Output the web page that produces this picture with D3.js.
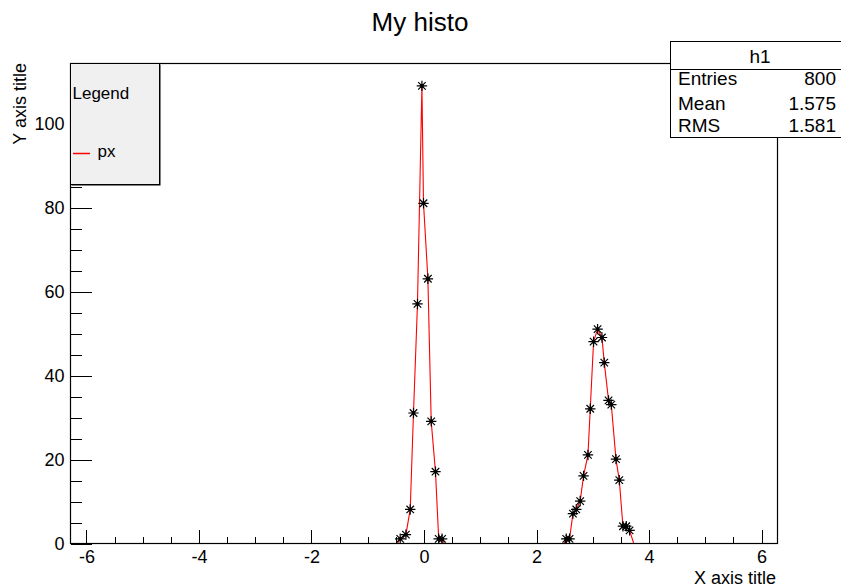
<!DOCTYPE html>
<html><head><meta charset="utf-8">
<script src="https://cdn.jsdelivr.net/npm/d3@7"></script>
<style>
body{margin:0;background:#fff}
svg text{font-family:"Liberation Sans",Arial,Helvetica,sans-serif;fill:#000}
</style>
</head><body>
<svg id="c" width="841" height="587"></svg>
<script>
// ---- data ----
const chartTitle = "My histo";
const xAxisTitle = "X axis title";
const yAxisTitle = "Y axis title";
const histName = "h1";
const seriesName = "px";
// x positions of the points (data units) and their counts; zero-count points only carry the line
const xValues = [-0.459, -0.414, -0.313, -0.236, -0.178, -0.107, -0.028, 0.0, 0.078, 0.137, 0.213, 0.27, 0.33, 0.368,
                 2.50, 2.537, 2.596, 2.656, 2.715, 2.785, 2.845, 2.923, 2.964, 3.023, 3.094, 3.172, 3.213, 3.289, 3.338, 3.421, 3.480, 3.545, 3.604, 3.663, 3.734];
const counts  = [0, 1, 2, 8, 31, 57, 109, 81, 63, 29, 17, 1, 1, 0,
                 0, 1, 1, 7, 8, 10, 16, 21, 32, 48, 51, 49, 43, 34, 33, 20, 15, 4, 4, 3, 0];
const xMajorTicks = [-6, -4, -2, 0, 2, 4, 6];
const yMajorTicks = [0, 20, 40, 60, 80, 100];
const statsLabels = ["Entries", "Mean", "RMS"];
const statsValues = ["800", "1.575", "1.581"];

// ---- layout ----
const svg = d3.select("#c");
const F = {l: 70, r: 777, t: 63, b: 543};
const x = d3.scaleLinear().domain([-2 * Math.PI, 2 * Math.PI]).range([F.l, F.r]);
const y = d3.scaleLinear().domain([0, d3.max(counts) * 1.05]).range([F.b, F.t]);
const xMinor = d3.range(-6, 6.001, 0.5);
const yMinor = d3.range(0, y.domain()[1], 5);
const FONT = '"Liberation Sans",Arial,Helvetica,sans-serif';

// title
svg.append("text").attr("x", 420).attr("y", 31).attr("text-anchor", "middle")
  .attr("font-size", 26).text(chartTitle);

// data (drawn under the frame and axes); split where two zero points follow each other
const pts = xValues.map((v, i) => ({x: v, c: counts[i]}));
const segments = [];
let cur = [];
pts.forEach((p, i) => {
  if (i > 0 && p.c === 0 && pts[i - 1].c === 0) { segments.push(cur); cur = []; }
  cur.push(p);
});
segments.push(cur);
svg.append("clipPath").attr("id", "fr").append("rect")
  .attr("x", F.l).attr("y", F.t).attr("width", F.r - F.l).attr("height", F.b - F.t);
svg.append("g").attr("clip-path", "url(#fr)")
  .selectAll("path").data(segments).join("path")
  .attr("fill", "none").attr("stroke", "#ff0000").attr("stroke-width", 1.1)
  .attr("d", d3.line().x(d => x(d.x)).y(d => y(d.c)));

// frame
svg.append("rect").attr("x", F.l + 0.5).attr("y", F.t + 0.5)
  .attr("width", F.r - F.l).attr("height", F.b - F.t)
  .attr("fill", "none").attr("stroke", "#000").attr("stroke-width", 1.2);

function styleAxis(g) {
  g.select(".domain").remove();
  g.attr("font-family", FONT).attr("font-size", 18);
  g.selectAll("line").attr("stroke", "#000").attr("shape-rendering", "crispEdges");
  g.selectAll("text").attr("fill", "#000");
}

// x axis (ticks point inward)
svg.append("g").attr("transform", `translate(0.5,${F.b + 0.5})`)
  .call(d3.axisBottom(x).tickValues(xMinor).tickSize(-7).tickSizeOuter(0).tickFormat(""))
  .call(styleAxis);
svg.append("g").attr("transform", `translate(0.5,${F.b + 0.5})`)
  .call(d3.axisBottom(x).tickValues(xMajorTicks).tickSize(-14).tickSizeOuter(0).tickPadding(7).tickFormat(d => String(d)))
  .call(styleAxis);

// y axis
svg.append("g").attr("transform", `translate(${F.l + 0.5},0.5)`)
  .call(d3.axisLeft(y).tickValues(yMinor).tickSize(-11).tickSizeOuter(0).tickFormat(""))
  .call(styleAxis);
svg.append("g").attr("transform", `translate(${F.l + 0.5},0.5)`)
  .call(d3.axisLeft(y).tickValues(yMajorTicks).tickSize(-21).tickSizeOuter(0).tickPadding(6).tickFormat(d => String(d)))
  .call(styleAxis);

// axis titles
svg.append("text").attr("x", F.r - 1).attr("y", 584).attr("text-anchor", "end")
  .attr("font-size", 18).text(xAxisTitle);
svg.append("text").attr("transform", `translate(26,${F.t}) rotate(-90)`).attr("text-anchor", "end")
  .attr("font-size", 18).text(yAxisTitle);

// markers
function asterisk(r) {
  const d = r * 0.72;
  return `M${-r},0H${r}M0,${-r}V${r}M${-d},${-d}L${d},${d}M${-d},${d}L${d},${-d}`;
}
const mk = svg.append("g");
mk.selectAll("g").data(pts.filter(p => p.c > 0)).join("g")
  .attr("transform", d => `translate(${x(d.x)},${y(d.c)})`)
  .each(function () {
    const g = d3.select(this);
    g.append("path").attr("d", asterisk(5.2)).attr("stroke", "#000").attr("stroke-width", 1.2).attr("fill", "none");
    g.append("circle").attr("r", 1.9).attr("fill", "#000");
  });

// legend
const L = {x: 70, y: 63, w: 89, h: 121};
svg.append("rect").attr("x", L.x + 1.5).attr("y", L.y + 1.5).attr("width", L.w).attr("height", L.h).attr("fill", "#000");
svg.append("rect").attr("x", L.x + 0.5).attr("y", L.y + 0.5).attr("width", L.w).attr("height", L.h)
  .attr("fill", "#f0f0f0").attr("stroke", "#000").attr("stroke-width", 1);
svg.append("text").attr("x", L.x + 2.5).attr("y", 99).attr("font-size", 17).text("Legend");
svg.append("line").attr("x1", L.x + 3).attr("x2", L.x + 20).attr("y1", 153.5).attr("y2", 153.5)
  .attr("stroke", "#ff0000").attr("stroke-width", 1.5);
svg.append("text").attr("x", L.x + 27.5).attr("y", 157).attr("font-size", 17).text(seriesName);

// stats box
const S = {x: 670, y: 41, w: 180, h: 96};
svg.append("rect").attr("x", S.x + 0.5).attr("y", S.y + 0.5).attr("width", S.w).attr("height", S.h)
  .attr("fill", "#fff").attr("stroke", "#000").attr("stroke-width", 1);
svg.append("line").attr("x1", S.x).attr("x2", S.x + S.w).attr("y1", 69.5).attr("y2", 69.5)
  .attr("stroke", "#000").attr("stroke-width", 1);
svg.append("text").attr("x", 760).attr("y", 63).attr("text-anchor", "middle").attr("font-size", 19).text(histName);
const rowY = [85, 110, 132];
statsLabels.forEach((lab, i) => {
  svg.append("text").attr("x", 678).attr("y", rowY[i]).attr("font-size", 19).text(lab);
  svg.append("text").attr("x", 836).attr("y", rowY[i]).attr("text-anchor", "end").attr("font-size", 19).text(statsValues[i]);
});
</script>
</body></html>
